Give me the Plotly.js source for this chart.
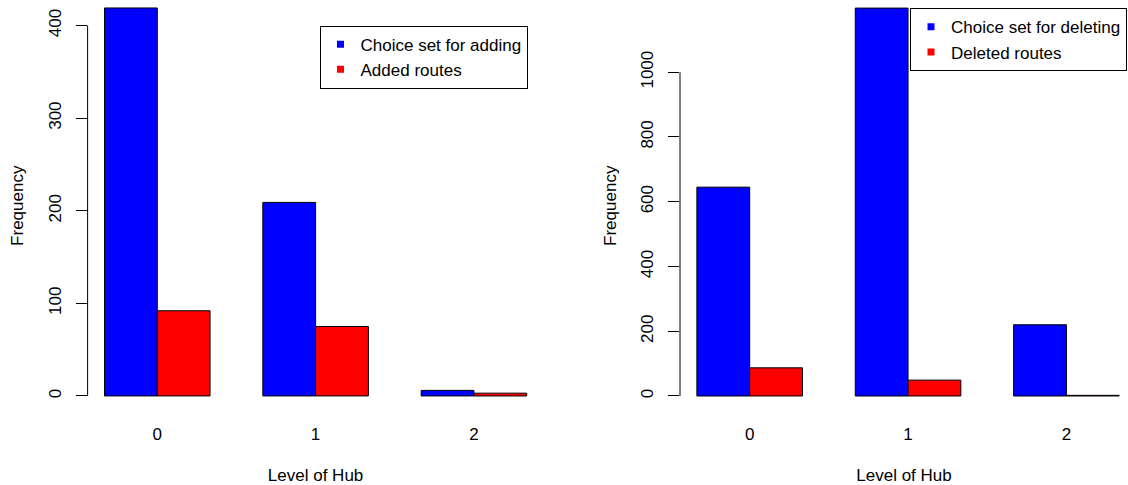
<!DOCTYPE html>
<html>
<head>
<meta charset="utf-8">
<script src="https://cdn.plot.ly/plotly-3.0.1.min.js"></script>
<style>
  html, body { margin: 0; padding: 0; background: #fff; }
  #chart { width: 1128px; height: 485px; }
</style>
</head>
<body>
<div id="chart"></div>
<script>
// ---- data ----
const hubLevels = ['0', '1', '2'];
const addSeriesNames = ['Choice set for adding', 'Added routes'];
const choiceSetAdding = [419, 209, 6];
const addedRoutes = [92, 75, 3];
const delSeriesNames = ['Choice set for deleting', 'Deleted routes'];
const choiceSetDeleting = [645, 1198, 220];
const deletedRoutes = [87, 49, 2];
const leftTicks = [0, 100, 200, 300, 400];
const rightTicks = [0, 200, 400, 600, 800, 1000];
const xTitle = 'Level of Hub';
const yTitle = 'Frequency';

// ---- style ----
const W = 1128, H = 485;
const FONT = 'Liberation Sans, Arial, Helvetica, sans-serif';
const FS = 17;
const BLUE = '#0000FF', RED = '#FF0000';
const px = v => v / W, py = v => 1 - v / H;

function bar(x, y, name, color, xa, ya) {
  return {
    type: 'bar', x: x, y: y, name: name, xaxis: xa, yaxis: ya,
    marker: { color: color, line: { color: '#000', width: 1 } },
    showlegend: false, hoverinfo: 'x+y+name'
  };
}
function legendTrace(name, color, xa, ya, lg) {
  return {
    type: 'scatter', mode: 'markers', x: [null], y: [null], name: name,
    xaxis: xa, yaxis: ya, legend: lg,
    marker: { symbol: 'square', size: 7, color: color, line: { width: 0 } },
    hoverinfo: 'skip'
  };
}

const traces = [
  bar(hubLevels, choiceSetAdding, addSeriesNames[0], BLUE, 'x', 'y'),
  bar(hubLevels, addedRoutes, addSeriesNames[1], RED, 'x', 'y'),
  bar(hubLevels, choiceSetDeleting, delSeriesNames[0], BLUE, 'x2', 'y2'),
  bar(hubLevels, deletedRoutes, delSeriesNames[1], RED, 'x2', 'y2'),
  legendTrace(addSeriesNames[0], BLUE, 'x', 'y', 'legend'),
  legendTrace(addSeriesNames[1], RED, 'x', 'y', 'legend'),
  legendTrace(delSeriesNames[0], BLUE, 'x2', 'y2', 'legend2'),
  legendTrace(delSeriesNames[1], RED, 'x2', 'y2', 'legend2')
];

function xAxis(domain, anchor, range) {
  return {
    domain: domain, anchor: anchor, type: 'category',
    range: range, showgrid: false, zeroline: false, showline: false,
    ticks: '', ticklabelstandoff: 10,
    tickfont: { family: FONT, size: FS, color: '#000' },
    title: { text: xTitle, font: { family: FONT, size: FS, color: '#000' }, standoff: 27 },
    automargin: false, fixedrange: true
  };
}
function yAxis(domain, anchor, range, ticks) {
  return {
    domain: domain, anchor: anchor, range: range,
    showgrid: false, zeroline: false, showline: false,
    tickmode: 'array', tickvals: ticks, ticktext: ticks.map(String),
    ticks: 'outside', ticklen: 11, tickwidth: 1, tickcolor: '#000',
    tickangle: -90, ticklabelstandoff: 8,
    tickfont: { family: FONT, size: FS, color: '#000' },
    title: { text: yTitle, font: { family: FONT, size: FS, color: '#000' }, standoff: 17 },
    automargin: false, fixedrange: true
  };
}

const yDom = [1 - 411.5 / H, 1];
const legendCommon = {
  bgcolor: '#fff', bordercolor: '#000', borderwidth: 1,
  font: { family: FONT, size: FS, color: '#000' },
  xanchor: 'right', yanchor: 'top', itemclick: false, itemdoubleclick: false
};

const layout = {
  width: W, height: H,
  margin: { l: 0, r: 0, t: 0, b: 0 },
  paper_bgcolor: '#fff', plot_bgcolor: '#fff',
  barmode: 'group', bargap: 1 / 3, bargroupgap: 0,
  font: { family: FONT, size: FS, color: '#000' },
  xaxis: xAxis([px(87.6), px(543.6)], 'y', [-0.44, 2.44]),
  yaxis: yAxis(yDom, 'x', [-16.8, 427.6], leftTicks),
  xaxis2: xAxis([px(680), 1], 'y2', [-0.44, 2.389]),
  yaxis2: yAxis(yDom, 'x2', [-47.9, 1223], rightTicks),
  legend: Object.assign({}, legendCommon, { x: px(527.5), y: py(25.7) }),
  legend2: Object.assign({}, legendCommon, { x: px(1127), y: py(8.3) }),
  shapes: [
    { type: 'line', xref: 'x domain', yref: 'y', x0: 0, x1: 0,
      y0: leftTicks[0], y1: leftTicks[leftTicks.length - 1],
      line: { color: '#000', width: 1 } },
    { type: 'line', xref: 'x2 domain', yref: 'y2', x0: 0, x1: 0,
      y0: rightTicks[0], y1: rightTicks[rightTicks.length - 1],
      line: { color: '#000', width: 1 } }
  ],
  showlegend: true
};

Plotly.newPlot('chart', traces, layout, { displayModeBar: false, staticPlot: true });
</script>
</body>
</html>
